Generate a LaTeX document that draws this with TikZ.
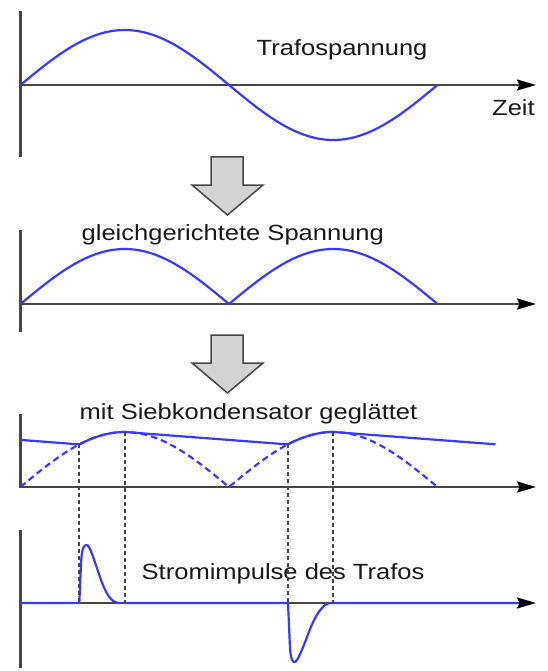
\documentclass[tikz,border=0pt]{standalone}
\usepackage{fontspec}
\setmainfont{Liberation Sans}[FakeStretch=1.16]
\usetikzlibrary{arrows.meta}
\definecolor{curveblue}{RGB}{58,58,255}
\definecolor{axisgray}{RGB}{70,70,70}
\definecolor{arrowfill}{RGB}{211,211,211}
\definecolor{textdark}{RGB}{25,25,25}
\begin{document}
\begin{tikzpicture}[x=1pt,y=-1pt,
  axisline/.style={draw=axisgray, line width=2.3pt},
  axisarrow/.style={axisline, -{Stealth[length=19pt,width=11pt,inset=2.5pt,color=black]}},
  curve/.style={draw=curveblue, line width=2.2pt, line join=round},
  curvedashed/.style={curve, dash pattern=on 6.5pt off 4pt},
  guide/.style={draw=axisgray, line width=2.3pt, dash pattern=on 4pt off 3pt},
  blockarrow/.style={fill=arrowfill, draw=axisgray, line width=1.5pt, line join=miter},
  lbl/.style={inner sep=0pt, anchor=base west, text=textdark, font=\fontsize{22}{26}\selectfont}]
\useasboundingbox (0,0) rectangle (547,671);

% ---------- coordinates of the axes ----------
\coordinate (a1t) at (20.5,11.5);  \coordinate (a1b) at (20.5,157);
\coordinate (a1o) at (20.5,85);    \coordinate (a1e) at (536,85);
\coordinate (a2t) at (20.5,230);   \coordinate (a2b) at (20.5,332);
\coordinate (a2o) at (20.5,304);   \coordinate (a2e) at (536,304);
\coordinate (a3t) at (20.5,414);   \coordinate (a3b) at (20.5,488);
\coordinate (a3o) at (20.5,487);   \coordinate (a3e) at (536,487);
\coordinate (a4t) at (20.5,530);   \coordinate (a4b) at (20.5,668);
\coordinate (a4o) at (20.5,603);   \coordinate (a4e) at (536,603);

% ---------- axes ----------
\draw[axisline] (a1t) -- (a1b);
\draw[axisarrow] (a1o) -- (a1e);
\draw[axisline] (a2t) -- (a2b);
\draw[axisarrow] (a2o) -- (a2e);
\draw[axisline] (a3t) -- (a3b);
\draw[axisarrow] (a3o) -- (a3e);
\draw[axisline] (a4t) -- (a4b);
\draw[axisarrow] (a4o) -- (a4e);

% ---------- texts ----------
\node[lbl] (t1) at (256.5,56) {Trafospannung};
\node[lbl] (tz) at (492,116) {Zeit};
\node[lbl] (t2) at (81.5,240) {gleichgerichtete Spannung};
\node[lbl] (t3) at (79.5,419) {mit Siebkondensator geglättet};
\node[lbl] (t4) at (141.5,579) {Stromimpulse des Trafos};

% ---------- panel 1: sine ----------
\draw[curve] plot[domain=0:417, samples=120] ({20.5+\x},{85-55*sin(\x/208.5*180)});

% ---------- block arrows ----------
\draw[blockarrow] (211,157) -- (243,157) -- (243,185) -- (263,185) -- (227.5,215)
  -- (192,185) -- (211,185) -- cycle;
\draw[blockarrow] (211,335) -- (243,335) -- (243,363) -- (263,363) -- (227.5,393)
  -- (192,363) -- (211,363) -- cycle;

% ---------- panel 2: rectified ----------
\draw[curve] plot[domain=0:417, samples=121] ({20.5+\x},{304-55*abs(sin(\x/208.5*180))});

% ---------- panel 3: smoothed ----------
\draw[curvedashed] plot[domain=0:417, samples=121] ({20.5+\x},{487-55*abs(sin(\x/208.5*180))});
\coordinate (p1) at (79.3,444.4);
\coordinate (k1) at (124.75,432);
\coordinate (p2) at (288,444.4);
\coordinate (k2) at (333.25,432);
\coordinate (s0) at (20.5,439.9);
\coordinate (s9) at (495.5,444.3);
\draw[curve] (s0) -- (p1)
  -- plot[domain=58.8:104.25, samples=30] ({20.5+\x},{487-55*sin(\x/208.5*180)})
  -- (p2)
  -- plot[domain=267.5:312.75, samples=30] ({20.5+\x},{487-55*abs(sin(\x/208.5*180))})
  -- (s9);

% ---------- panel 4: current pulses ----------
\coordinate (q1) at (79.3,603);
\coordinate (r1) at (124.75,603);
\coordinate (q2) at (288,603);
\coordinate (r2) at (333.25,603);
\coordinate (c4e) at (517,603);
\draw[curve] (a4o) -- (q1) -- (81.2,560) .. controls (82.3,547) and (84,545) .. (86.5,545)
  .. controls (90,545) and (94,560) .. (100,577)
  .. controls (106,594) and (111,603) .. (119.5,603)
  -- (q2) -- (290,648) .. controls (291,660) and (292.5,662) .. (294.5,662)
  .. controls (297.5,662) and (302,650) .. (307,637)
  .. controls (313,621) and (319,607) .. (329,603) -- (c4e);

% ---------- dashed guide lines ----------
\draw[guide] (p1) -- (q1);
\draw[guide] (k1) -- (r1);
\draw[guide] (p2) -- (q2);
\draw[guide] (k2) -- (r2);
\end{tikzpicture}
\end{document}
